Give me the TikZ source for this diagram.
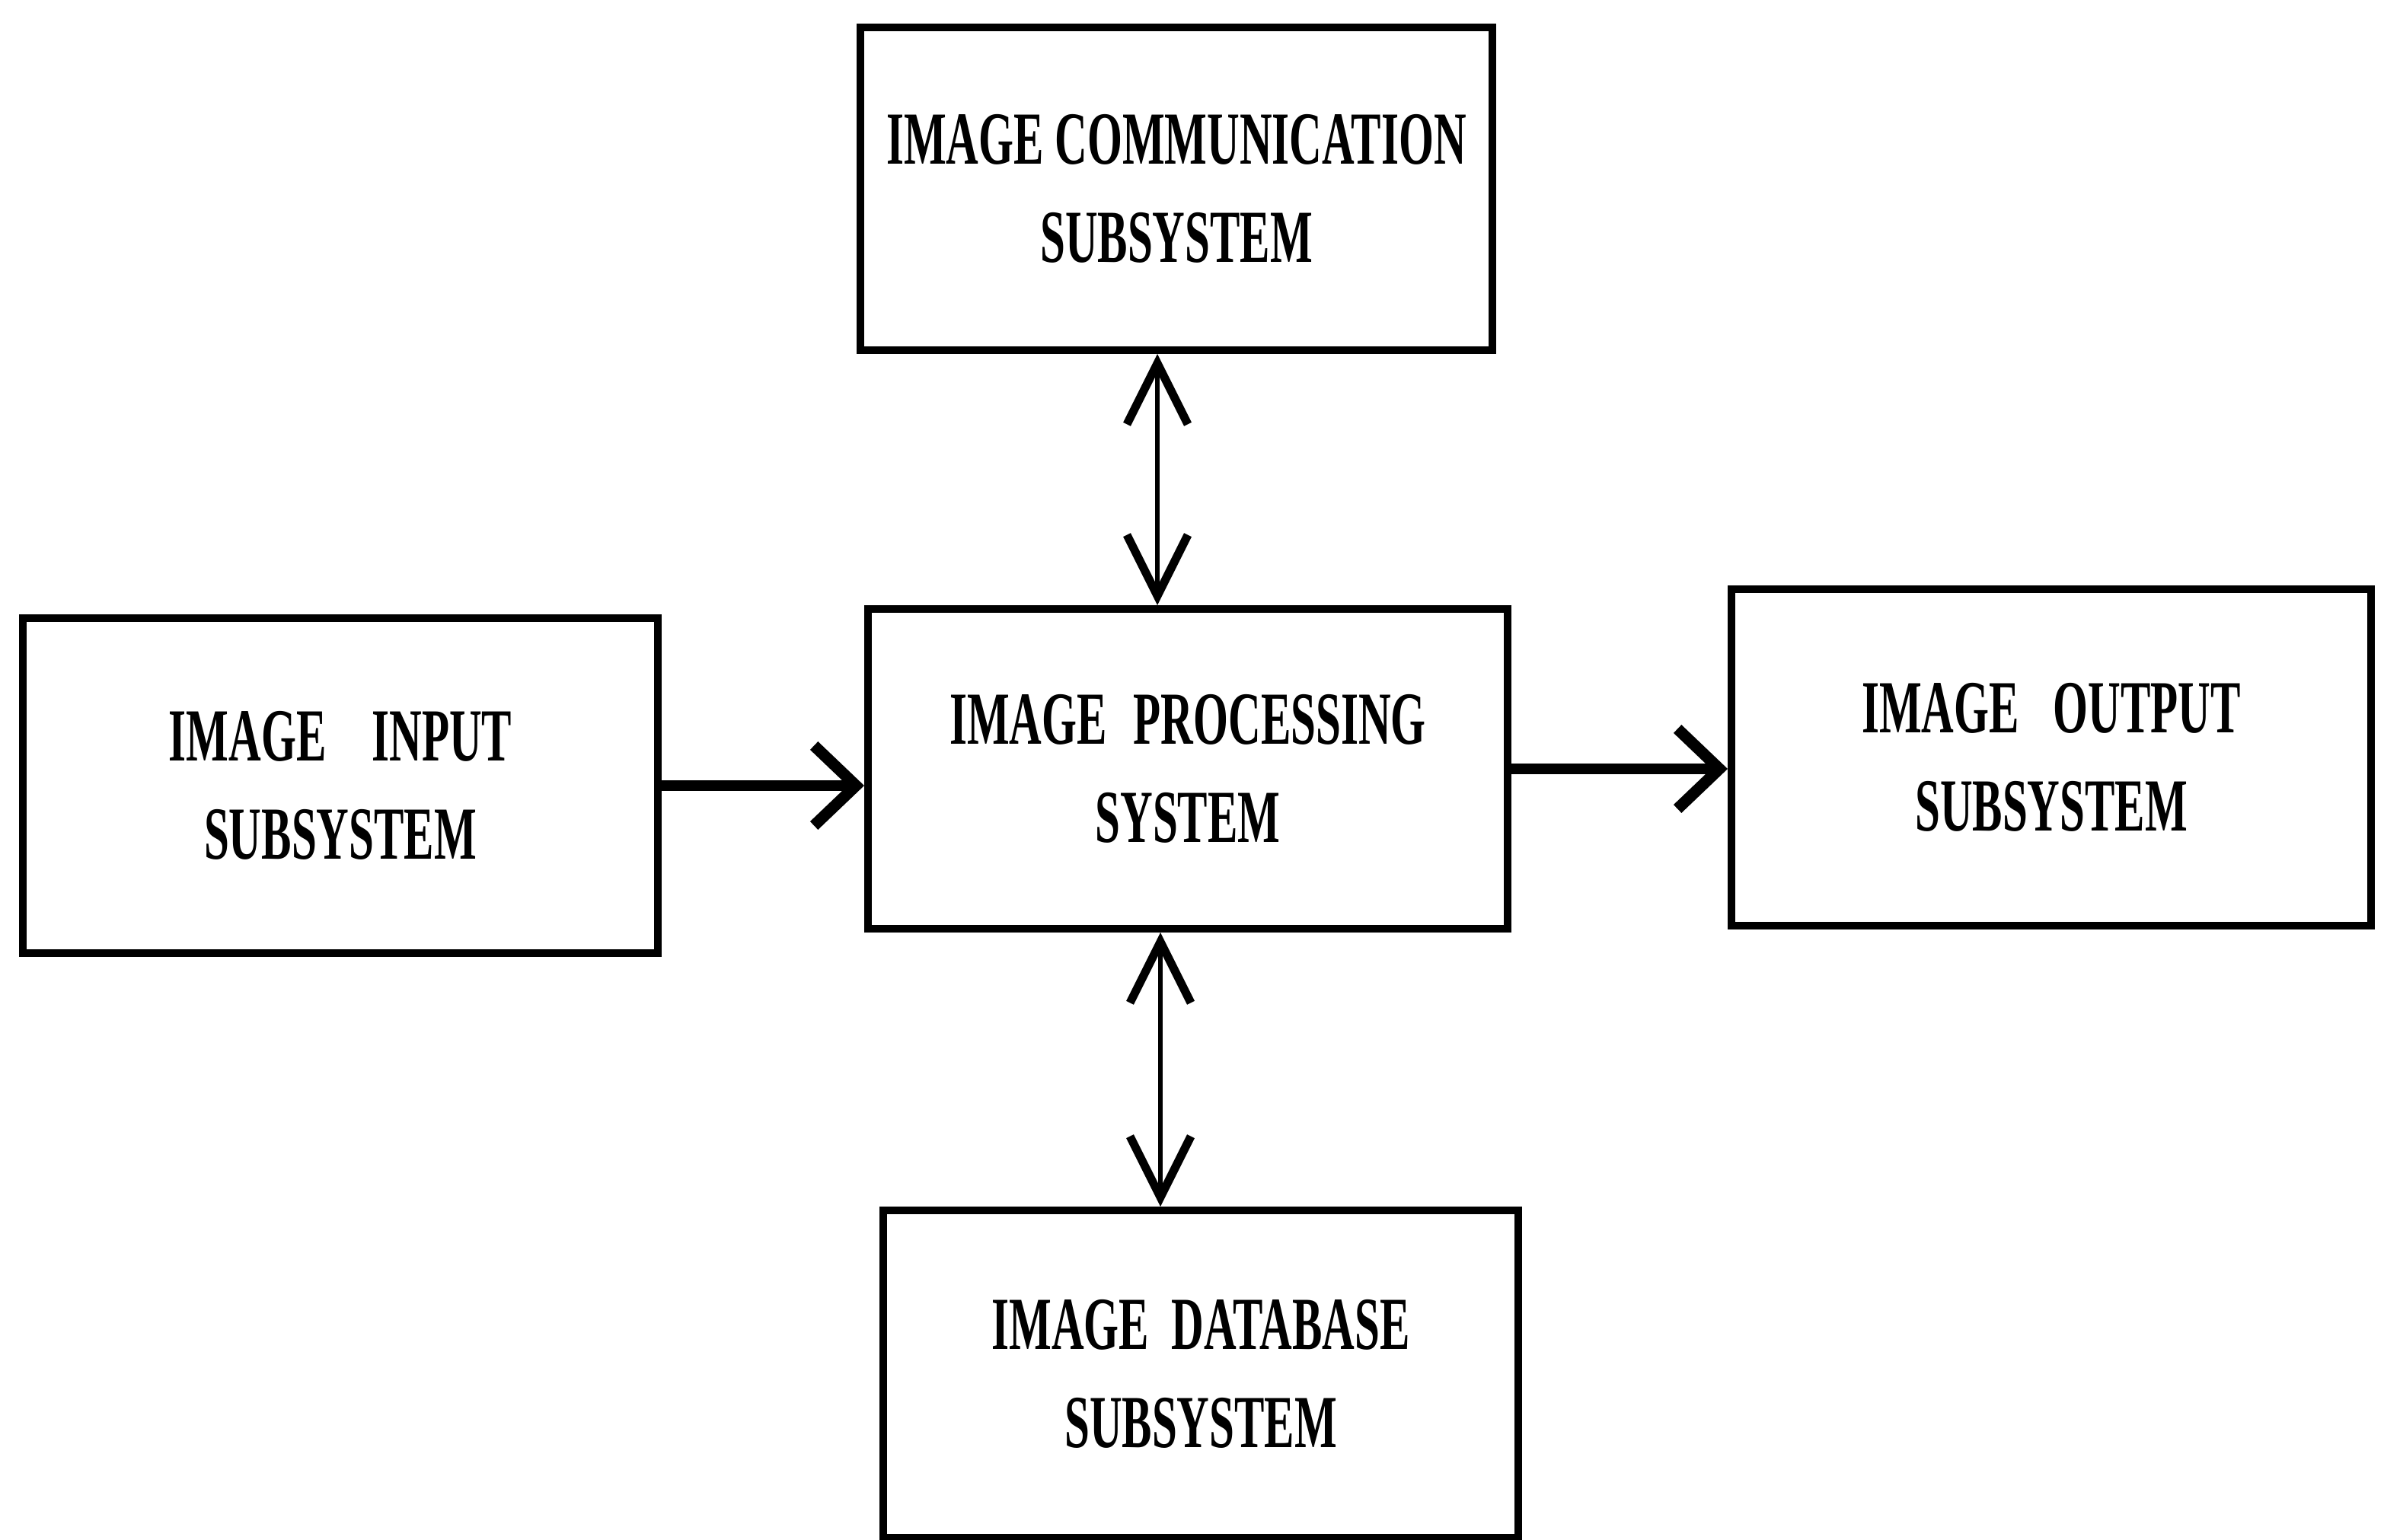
\documentclass[tikz,border=0pt]{standalone}
\usepackage{fontspec}
\newfontfamily\boxfont[FakeStretch=0.6]{Liberation Serif}
\usetikzlibrary{positioning,arrows.meta}

\begin{document}
\begin{tikzpicture}[x=1cm, y=1cm,
  blk/.style={draw, line width=0.1cm, align=center, inner sep=0pt,
    font=\boxfont\bfseries\fontsize{28}{36.5}\selectfont},
  hflow/.style={line width=0.14cm, -{Straight Barb[length=0.55cm, width=1.05cm, line width=0.15cm]}},
  vflow/.style={line width=0.06cm, {Straight Barb[length=0.8cm, width=0.8cm, line width=0.11cm]}-{Straight Barb[length=0.8cm, width=0.8cm, line width=0.11cm]}}]
\useasboundingbox (0,0) rectangle (31.31,20.22);
% subsystem boxes
\node[blk, minimum width=8.3cm, minimum height=4.24cm] (comm) at (15.45,17.74)
  {IMAGE COMMUNICATION\\SUBSYSTEM};
\node[blk, minimum width=8.34cm, minimum height=4.4cm] (input) at (4.47,9.9)
  {IMAGE\hspace{0.6cm}INPUT\\SUBSYSTEM};
\node[blk, minimum width=8.4cm, minimum height=4.2cm] (proc) at (15.6,10.12)
  {IMAGE\hspace{0.35cm}PROCESSING\\SYSTEM};
\node[blk, minimum width=8.4cm, minimum height=4.42cm] (output) at (26.94,10.27)
  {IMAGE\hspace{0.45cm}OUTPUT\\SUBSYSTEM};
\node[blk, minimum width=8.34cm, minimum height=4.3cm] (dbase) at (15.77,2.17)
  {IMAGE\hspace{0.3cm}DATABASE\\SUBSYSTEM};
% connectors
\draw[hflow] (input.east) -- (input.east -| proc.west);
\draw[hflow] (proc.east) -- (proc.east -| output.west);
\draw[vflow] ([xshift=-0.25cm]comm.south) -- ([xshift=-0.25cm]comm.south |- proc.north);
\draw[vflow] ([xshift=-0.36cm]proc.south) -- ([xshift=-0.36cm]proc.south |- dbase.north);
\end{tikzpicture}
\end{document}
